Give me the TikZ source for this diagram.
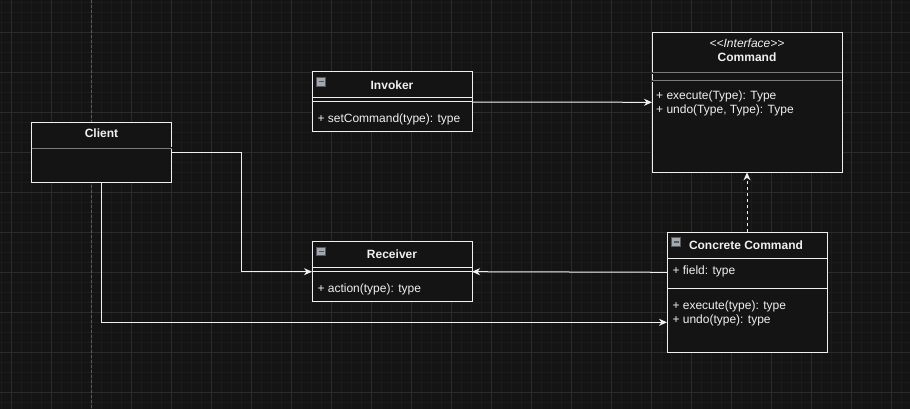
\documentclass[tikz,border=0pt]{standalone}
\usepackage{fontspec}
\setmainfont{Liberation Sans}
\usetikzlibrary{arrows.meta}
\definecolor{bg}{HTML}{141414}
\definecolor{minorgrid}{HTML}{1B1B1B}
\definecolor{majorgrid}{HTML}{2B2B2B}
\definecolor{pagebrk}{HTML}{5A5A5A}
\definecolor{linec}{HTML}{F0F0F0}
\definecolor{txt}{HTML}{F0F0F0}
\definecolor{sepgray}{HTML}{7A7A7A}
\definecolor{iconfill}{HTML}{A3A7AE}
\definecolor{iconline}{HTML}{55585E}
\begin{document}
\begin{tikzpicture}[x=1pt,y=-1pt,
  classbox/.style={draw=linec, fill=bg, line width=1pt, inner sep=0pt, outer sep=0pt, anchor=north west},
  ttl/.style={font=\bfseries\fontsize{12}{14}\selectfont, text=txt, inner sep=0pt},
  stereo/.style={font=\itshape\fontsize{12}{14}\selectfont, text=txt, inner sep=0pt},
  member/.style={font=\fontsize{12}{14}\selectfont, text=txt, anchor=west, inner sep=0pt},
  sepline/.style={draw=linec, line width=1pt},
  grayline/.style={draw=sepgray, line width=0.7pt, double=bg, double distance=0.6pt},
  conn/.style={draw=linec, line width=1pt, -{Stealth[length=8pt,width=7pt,inset=2.5pt]}},
  dconn/.style={conn, dash pattern=on 3pt off 3pt},
  icon/.style={fill=iconfill, draw=iconline, line width=0.6pt},
]
\fill[bg] (0,0) rectangle (910,409);
\useasboundingbox (0,0) rectangle (910,409);
% grid
\foreach \i in {0,...,91} \draw[minorgrid, line width=0.6pt] (1.7+\i*10,0) -- (1.7+\i*10,409);
\foreach \j in {0,...,40} \draw[minorgrid, line width=0.6pt] (0,2.3+\j*10) -- (910,2.3+\j*10);
\foreach \i in {0,...,22} \draw[majorgrid, line width=0.8pt] (11.7+\i*40,0) -- (11.7+\i*40,409);
\foreach \j in {0,...,9} \draw[majorgrid, line width=0.8pt] (0,32.3+\j*40) -- (910,32.3+\j*40);
\draw[pagebrk, line width=0.8pt, dash pattern=on 3pt off 2pt] (91.7,0) -- (91.7,409);

% boxes
\node[classbox, minimum width=160pt, minimum height=60pt] (invoker) at (312,72) {};
\node[classbox, minimum width=140pt, minimum height=60pt] (client) at (31.5,122.3) {};
\node[classbox, minimum width=160pt, minimum height=60pt] (receiver) at (312,241.7) {};
\node[classbox, minimum width=190pt, minimum height=140pt] (command) at (652,32.3) {};
\node[classbox, minimum width=160pt, minimum height=120pt] (concrete) at (667,232.3) {};

% Invoker
\draw[sepline] ([yshift=-26pt]invoker.north west) -- ([yshift=-26pt]invoker.north east);
\draw[sepline] ([yshift=-30pt]invoker.north west) -- ([yshift=-30pt]invoker.north east);
\draw[icon] ([xshift=4.5pt,yshift=-5.5pt]invoker.north west) rectangle ++(9,8.5);
\draw[iconline, line width=1.2pt] ([xshift=6.5pt,yshift=-9.75pt]invoker.north west) -- ++(5,0);
\node[ttl] (invokerT) at ([yshift=-13.5pt]invoker.north) {Invoker};
\node[member] (invokerM) at ([xshift=5.3pt,yshift=-47pt]invoker.north west) {+ setCommand(type): type};

% Client
\draw[grayline] ([yshift=-25.4pt]client.north west) -- ([yshift=-25.4pt]client.north east);
\node[ttl] (clientT) at ([yshift=-11pt]client.north) {Client};

% Receiver
\draw[sepline] ([yshift=-26pt]receiver.north west) -- ([yshift=-26pt]receiver.north east);
\draw[sepline] ([yshift=-29.5pt]receiver.north west) -- ([yshift=-29.5pt]receiver.north east);
\draw[icon] ([xshift=4.5pt,yshift=-5.2pt]receiver.north west) rectangle ++(9,8.5);
\draw[iconline, line width=1.2pt] ([xshift=6.5pt,yshift=-9.45pt]receiver.north west) -- ++(5,0);
\node[ttl] (receiverT) at ([yshift=-13pt]receiver.north) {Receiver};
\node[member] (receiverM) at ([xshift=5.3pt,yshift=-47.6pt]receiver.north west) {+ action(type): type};

% Command
\draw[grayline] ([yshift=-40.7pt]command.north west) -- ([yshift=-40.7pt]command.north east);
\draw[grayline] ([yshift=-48.7pt]command.north west) -- ([yshift=-48.7pt]command.north east);
\node[stereo] (commandS) at ([yshift=-10.5pt]command.north) {\textless\kern0pt\textless\kern0pt Interface\textgreater\kern0pt\textgreater};
\node[ttl] (commandT) at ([yshift=-24.5pt]command.north) {Command};
\node[member] (commandM1) at ([xshift=4pt,yshift=-63.7pt]command.north west) {+ execute(Type): Type};
\node[member] (commandM2) at ([xshift=4pt,yshift=-77.7pt]command.north west) {+ undo(Type, Type): Type};

% Concrete Command
\draw[sepline] ([yshift=-26pt]concrete.north west) -- ([yshift=-26pt]concrete.north east);
\draw[sepline] ([yshift=-56pt]concrete.north west) -- ([yshift=-56pt]concrete.north east);
\draw[icon] ([xshift=4.7pt,yshift=-5.4pt]concrete.north west) rectangle ++(9,8.5);
\draw[iconline, line width=1.2pt] ([xshift=6.7pt,yshift=-9.65pt]concrete.north west) -- ++(5,0);
\node[ttl] (concreteT) at ([xshift=-1pt,yshift=-13.4pt]concrete.north) {Concrete Command};
\node[member] (concreteF) at ([xshift=5.3pt,yshift=-39.4pt]concrete.north west) {+ field: type};
\node[member] (concreteM1) at ([xshift=5.3pt,yshift=-73.7pt]concrete.north west) {+ execute(type): type};
\node[member] (concreteM2) at ([xshift=5.3pt,yshift=-87.7pt]concrete.north west) {+ undo(type): type};

% connectors
\draw[conn] (invoker.east) -- (command.west);
\draw[conn] (client.east) -- ++(70,0) |- (receiver.west);
\draw[conn] (client.south) |- ([yshift=30pt]concrete.south west);
\draw[conn] ([yshift=-40pt]concrete.north west) -- (receiver.east);
\draw[dconn] (concrete.north) -- (command.south);
\end{tikzpicture}
\end{document}
